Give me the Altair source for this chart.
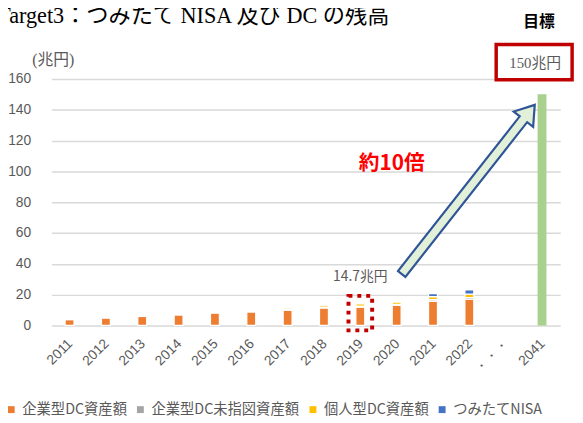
import altair as alt
import pandas as pd

categories = ["2011", "2012", "2013", "2014", "2015", "2016", "2017", "2018",
              "2019", "2020", "2021", "2022", "・・・", "2041"]
years = categories[:12]
series_names = ["企業型DC資産額", "企業型DC未指図資産額", "個人型DC資産額", "つみたてNISA"]
series_colors = ["#ED7D31", "#A5A5A5", "#FFC000", "#4472C4"]
corp_dc = [3.8, 4.9, 5.8, 6.9, 8.1, 8.8, 9.9, 11.3, 11.9, 13.1, 15.8, 17.0]
corp_unassigned = [0.1, 0.1, 0.2, 0.2, 0.2, 0.3, 0.5, 0.6, 0.7, 0.6, 0.9, 1.0]
ideco = [0.2, 0.2, 0.2, 0.2, 0.2, 0.3, 1.0, 1.3, 1.5, 1.5, 2.0, 2.3]
nisa = [0, 0, 0, 0, 0, 0, 0, 0.1, 0.2, 0.3, 2.0, 2.7]
target_year = ["2041"]
target_value = [150]
y_ticks = [0, 20, 40, 60, 80, 100, 120, 140, 160]

rows = []
for i, yr in enumerate(years):
    for k, (name, vals) in enumerate(zip(series_names, [corp_dc, corp_unassigned, ideco, nisa])):
        rows.append({"year": yr, "series": name, "value": vals[i], "k": k})
df = pd.DataFrame(rows)
df_target = pd.DataFrame({"year": target_year, "value": target_value})

xscale = alt.Scale(domain=categories, paddingInner=0, paddingOuter=0)
yscale = alt.Scale(domain=[0, 160])
GRAY = "#595959"
JP = "Noto Sans CJK JP"

xaxis = alt.Axis(title=None, labelAngle=-45, labelFont="Liberation Sans", labelFontSize=14,
                 labelColor=GRAY, ticks=False, domain=False, grid=False, labelPadding=11,
                 labelOffset=-4)
yaxis = alt.Axis(values=y_ticks, tickCount=20, labelOverlap=False, title="(兆円)", titleAngle=0,
                 titleX=-20, titleY=-20, titleAlign="left", titleBaseline="middle",
                 titleFont="Liberation Serif, Noto Sans CJK JP", titleFontWeight="normal",
                 titleFontSize=16, titleColor=GRAY, labelFont="Liberation Sans",
                 labelFontSize=14, labelColor=GRAY, ticks=False, tickSize=0, domain=False,
                 labelPadding=21, gridColor="#D9D9D9", gridWidth=1.5)

X = alt.X("year:N", scale=xscale, sort=categories, axis=xaxis)
Y = alt.Y("value:Q", scale=yscale, stack="zero", axis=yaxis)
Yn = alt.Y("value:Q", scale=yscale, axis=yaxis)

bars = alt.Chart(df).mark_bar(size=9, stroke="white", strokeWidth=1.2).encode(
    x=X, y=Y,
    color=alt.Color("series:N", scale=alt.Scale(domain=series_names, range=series_colors),
                    legend=alt.Legend(title=None, orient="none", legendX=-48, legendY=328,
                                      direction="horizontal", symbolType="square", symbolSize=49,
                                      symbolStrokeWidth=0, labelFont=JP, labelFontSize=14.5,
                                      labelColor=GRAY, columnPadding=6, labelOffset=4,
                                      padding=0)),
    order=alt.Order("k:Q", sort="ascending"),
)

target = alt.Chart(df_target).mark_bar(size=9, color="#A9D18E").encode(x=X, y=Yn)

# annotations anchored in data coordinates
ann_box = alt.Chart(pd.DataFrame({"year": ["2041"], "value": [159.4], "value2": [182.4]})).mark_bar(
    width=77, xOffset=-8, fill="white", stroke="#C00000", strokeWidth=3.5).encode(
    x=X, y=Yn, y2="value2:Q")
ann_150 = alt.Chart(pd.DataFrame({"year": ["2041"], "value": [170.6], "t": ["150兆円"]})).mark_text(
    xOffset=-7, font="Liberation Serif, Noto Sans CJK JP", fontSize=15, color=GRAY).encode(
    x=X, y=Yn, text="t:N")
ann_goal = alt.Chart(pd.DataFrame({"year": ["2041"], "value": [197], "t": ["目標"]})).mark_text(
    xOffset=-3, font=JP, fontSize=16, fontWeight="bold", color="black").encode(
    x=X, y=Yn, text="t:N")
ann_dot = alt.Chart(pd.DataFrame({"year": ["2019"], "value": [-3.2], "value2": [19.2]})).mark_bar(
    width=24, fill=None, fillOpacity=0, stroke="#C00000", strokeWidth=4, strokeDash=[4, 5]).encode(
    x=X, y=Yn, y2="value2:Q")
ann_147 = alt.Chart(pd.DataFrame({"year": ["2019"], "value": [31.4], "t": ["14.7兆円"]})).mark_text(
    font=JP, fontSize=14, color=GRAY).encode(x=X, y=Yn, text="t:N")
ann_10 = alt.Chart(pd.DataFrame({"year": ["2020"], "value": [105], "t": ["約10倍"]})).mark_text(
    xOffset=-5, font=JP, fontSize=21, fontWeight="bold", color="#FF0000").encode(
    x=X, y=Yn, text="t:N")

arrow_path = "M0,-1L0.115,-0.83L0.044,-0.83L0.044,1L-0.044,1L-0.044,-0.83L-0.115,-0.83Z"
ann_arrow = alt.Chart(pd.DataFrame({"year": ["・・・"], "value": [88.3]})).mark_point(
    shape=arrow_path, size=47600, angle=38.2, xOffset=-38, filled=True, fill="#E2F0D9",
    stroke="#2F5597", strokeWidth=2.2, opacity=1, fillOpacity=1).encode(x=X, y=Yn)

title = alt.Chart(pd.DataFrame({"t": ["Target3：つみたて NISA 及び DC の残高"]})).mark_text(
    align="left", baseline="alphabetic", font="Liberation Serif, Noto Sans CJK JP", fontSize=22.5,
    color="black").encode(x=alt.value(-55), y=alt.value(-57), text="t:N")

chart = alt.layer(bars, target, ann_box, ann_150, ann_goal, ann_dot, ann_147, ann_10,
                  ann_arrow, title).properties(
    width=516, height=250,
    autosize=alt.AutoSizeParams(type="none"),
    padding={"left": 44, "top": 69, "right": 15, "bottom": 95},
).configure_view(stroke=None)

chart.save("out.html", embed_options={"renderer": "svg", "actions": False})
